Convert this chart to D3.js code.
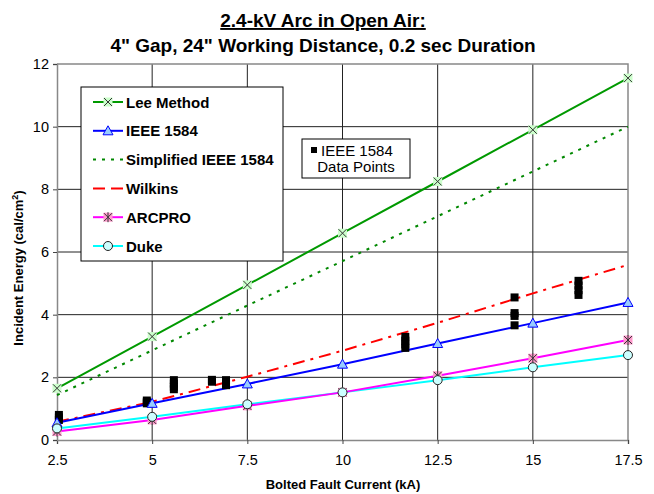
<!DOCTYPE html>
<html>
<head>
<meta charset="utf-8">
<script src="https://cdn.jsdelivr.net/npm/d3@7"></script>
<style>
  body { margin: 0; background: #fff; }
  svg { font-family: "Liberation Sans", Arial, sans-serif; }
</style>
</head>
<body>
<svg id="chart" width="654" height="494"></svg>
<script>
// fault current (kA) for the calculated curves
const currents = [2.5, 5, 7.5, 10, 12.5, 15, 17.5];

const leeMethod = [1.65, 3.3, 4.95, 6.6, 8.25, 9.9, 11.55];
const ieee1584 = [0.55, 1.17, 1.79, 2.42, 3.08, 3.73, 4.39];
const simplifiedIeee = [1.43, 2.86, 4.29, 5.71, 7.14, 8.57, 10.0];
const wilkins = [0.58, 1.22, 2.02, 2.85, 3.74, 4.68, 5.59];
const arcpro = [0.27, 0.64, 1.09, 1.52, 2.05, 2.61, 3.19];
const duke = [0.37, 0.74, 1.14, 1.52, 1.91, 2.32, 2.71];

// measured IEEE 1584 test points
const testCurrent = [2.55, 2.55, 2.55, 4.86, 4.86, 4.86, 5.57, 5.57, 5.57, 5.57, 6.57, 6.57,
  6.94, 6.94, 6.94, 11.65, 11.65, 11.65, 11.65, 14.52, 14.52, 14.52, 14.52, 16.2, 16.2, 16.2, 16.2];
const testEnergy = [0.8, 0.72, 0.64, 1.26, 1.21, 1.17, 1.91, 1.8, 1.7, 1.62, 1.92, 1.86,
  1.91, 1.82, 1.75, 3.29, 3.17, 3.05, 2.94, 4.55, 4.05, 3.96, 3.66, 5.08, 4.93, 4.78, 4.63];

const xTicks = [2.5, 5, 7.5, 10, 12.5, 15, 17.5];
const yTicks = [0, 2, 4, 6, 8, 10, 12];

const svg = d3.select('#chart');

const plotLeft = 57, plotRight = 628, plotTop = 64, plotBottom = 440;

const x = d3.scaleLinear().domain([2.5, 17.5]).range([plotLeft, plotRight]);
const y = d3.scaleLinear().domain([0, 12]).range([plotBottom, plotTop]);

/** Grid lines */
svg.append('g')
  .selectAll('line')
  .data(yTicks.slice(1, -1))
  .enter()
  .append('line')
  .attr('x1', plotLeft).attr('x2', plotRight)
  .attr('y1', d => y(d)).attr('y2', d => y(d))
  .attr('stroke', '#222').attr('stroke-width', 1);

svg.append('g')
  .selectAll('line')
  .data(xTicks.slice(1, -1))
  .enter()
  .append('line')
  .attr('y1', plotTop).attr('y2', plotBottom)
  .attr('x1', d => x(d)).attr('x2', d => x(d))
  .attr('stroke', '#222').attr('stroke-width', 1);

/** Plot frame (top and right) */
svg.append('path')
  .attr('d', `M${plotLeft},${plotTop}H${plotRight}V${plotBottom}`)
  .attr('fill', 'none')
  .attr('stroke', '#888').attr('stroke-width', 1.5);

/** Axes */
const xAxis = svg.append('g')
  .attr('transform', `translate(0,${plotBottom})`)
  .call(d3.axisBottom(x).tickValues(xTicks).tickSize(4).tickPadding(11).tickFormat(d3.format('')));

const yAxis = svg.append('g')
  .attr('transform', `translate(${plotLeft},0)`)
  .call(d3.axisLeft(y).tickValues(yTicks).tickSize(4).tickPadding(4));

[xAxis, yAxis].forEach(ax => {
  ax.select('.domain').attr('stroke', '#888').attr('stroke-width', 1.5);
  ax.selectAll('.tick line').attr('stroke', '#444');
  ax.selectAll('.tick text')
    .attr('font-family', '"Liberation Sans", Arial, sans-serif')
    .attr('font-size', 14.5).attr('fill', '#000');
});

/** Series definitions */
const series = [
  { name: 'Lee Method', values: leeMethod, color: '#009900', dash: null, marker: 'x' },
  { name: 'IEEE 1584', values: ieee1584, color: '#0000ff', dash: null, marker: 'triangle' },
  { name: 'Simplified IEEE 1584', values: simplifiedIeee, color: '#008800', dash: '3,6', marker: null },
  { name: 'Wilkins', values: wilkins, color: '#ff0000', dash: '12,6,3,6', marker: null },
  { name: 'ARCPRO', values: arcpro, color: '#ff00ff', dash: null, marker: 'star' },
  { name: 'Duke', values: duke, color: '#00ffff', dash: null, marker: 'circle' }
];

const line = d3.line().x(d => x(d[0])).y(d => y(d[1]));

const drawMarker = (g, type) => {
  if (type === 'x') {
    g.append('rect').attr('x', -4.5).attr('y', -4.5).attr('width', 9).attr('height', 9).attr('fill', '#ccffcc');
    g.append('path').attr('d', 'M-4,-4L4,4M-4,4L4,-4').attr('stroke', '#333').attr('stroke-width', 1);
  } else if (type === 'triangle') {
    g.append('path').attr('d', 'M0,-5L5,4H-5Z').attr('fill', '#99ccff').attr('stroke', '#0000ff').attr('stroke-width', 1);
  } else if (type === 'star') {
    g.append('rect').attr('x', -4.5).attr('y', -4.5).attr('width', 9).attr('height', 9).attr('fill', '#ff99cc');
    g.append('path').attr('d', 'M-4,-4L4,4M-4,4L4,-4M0,-5V5').attr('stroke', '#333').attr('stroke-width', 1);
  } else if (type === 'circle') {
    g.append('circle').attr('r', 4.5).attr('fill', '#ccffff').attr('stroke', '#222').attr('stroke-width', 1);
  }
};

/** Lines (draw bottom series first) */
series.slice().reverse().forEach(s => {
  const pts = currents.map((c, i) => [c, s.values[i]]);
  svg.append('path')
    .datum(pts)
    .attr('d', line)
    .attr('fill', 'none')
    .attr('stroke', s.color)
    .attr('stroke-width', 2)
    .attr('stroke-dasharray', s.dash);
});

/** Test data points */
svg.append('g')
  .selectAll('rect')
  .data(testCurrent.map((c, i) => [c, testEnergy[i]]))
  .enter()
  .append('rect')
  .attr('x', d => x(d[0]) - 4)
  .attr('y', d => y(d[1]) - 4)
  .attr('width', 8).attr('height', 8)
  .attr('fill', '#000');

/** Markers */
series.forEach(s => {
  if (!s.marker) return;
  currents.forEach((c, i) => {
    const g = svg.append('g').attr('transform', `translate(${x(c)},${y(s.values[i])})`);
    drawMarker(g, s.marker);
  });
});

/** Legend */
const legend = svg.append('g').attr('transform', 'translate(81,87)');
legend.append('rect')
  .attr('width', 202).attr('height', 174)
  .attr('fill', '#fff').attr('stroke', '#000').attr('stroke-width', 1);

series.forEach((s, i) => {
  const ly = 15 + i * 28.8;
  const item = legend.append('g').attr('transform', `translate(0,${ly})`);
  item.append('line')
    .attr('x1', 12).attr('x2', 42)
    .attr('stroke', s.color).attr('stroke-width', 2)
    .attr('stroke-dasharray', s.dash ? (s.name === 'Wilkins' ? '12,6' : '3,6') : null);
  if (s.marker) {
    const g = item.append('g').attr('transform', 'translate(27,0)');
    drawMarker(g, s.marker);
  }
  item.append('text')
    .attr('x', 45).attr('y', 5.5)
    .attr('font-size', 15).attr('font-weight', 'bold')
    .text(s.name);
});

/** Data points label box */
const dp = svg.append('g').attr('transform', 'translate(302,139)');
dp.append('rect')
  .attr('width', 108).attr('height', 39)
  .attr('fill', '#fff').attr('stroke', '#000').attr('stroke-width', 1);
dp.append('rect').attr('x', 9).attr('y', 8).attr('width', 6).attr('height', 6).attr('fill', '#000');
dp.append('text').attr('x', 19).attr('y', 17).attr('font-size', 15).text('IEEE 1584');
dp.append('text').attr('x', 54).attr('y', 33).attr('font-size', 15).attr('text-anchor', 'middle').text('Data Points');

/** Titles */
svg.append('text')
  .attr('x', 323).attr('y', 27)
  .attr('text-anchor', 'middle')
  .attr('font-size', 19).attr('font-weight', 'bold')
  .attr('text-decoration', 'underline')
  .text('2.4-kV Arc in Open Air:');

svg.append('text')
  .attr('x', 323).attr('y', 52)
  .attr('text-anchor', 'middle')
  .attr('font-size', 19).attr('font-weight', 'bold')
  .text('4" Gap, 24" Working Distance, 0.2 sec Duration');

svg.append('text')
  .attr('x', 343).attr('y', 489)
  .attr('text-anchor', 'middle')
  .attr('font-size', 13).attr('font-weight', 'bold')
  .text('Bolted Fault Current (kA)');

const yTitle = svg.append('text')
  .attr('transform', 'translate(23,268) rotate(-90)')
  .attr('text-anchor', 'middle')
  .attr('font-size', 13).attr('font-weight', 'bold');
yTitle.append('tspan').text('Incident Energy (cal/cm');
yTitle.append('tspan').attr('font-size', 9).attr('dy', -5).text('2');
yTitle.append('tspan').attr('dy', 5).text(')');
</script>
</body>
</html>
